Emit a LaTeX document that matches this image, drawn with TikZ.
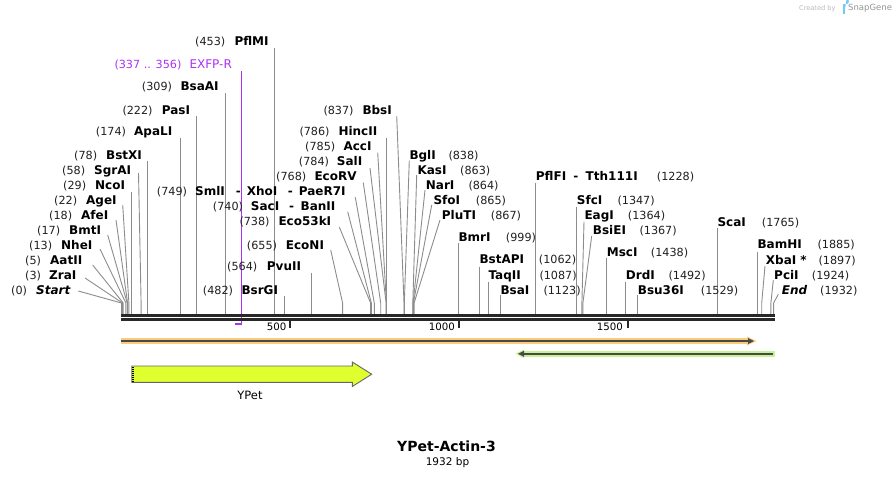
\documentclass[tikz,border=0pt]{standalone}
\usepackage{fontspec}
\setmainfont{DejaVu Sans}
\definecolor{cutgray}{RGB}{140,140,140}
\definecolor{primerpurple}{RGB}{170,51,240}
\definecolor{ypetfill}{RGB}{223,255,46}
\definecolor{orangehl}{RGB}{250,204,122}
\definecolor{greenhl}{RGB}{196,242,150}
\definecolor{darkline}{RGB}{40,40,40}
\definecolor{sgblue}{RGB}{120,200,245}
\tikzset{
  numt/.style={anchor=base west, inner sep=0pt, font=\fontsize{11.2}{13}\selectfont, text=black!88},
  nmt/.style={anchor=base west, inner sep=0pt, font=\fontsize{12}{14}\selectfont\bfseries},
  cut/.style={draw=cutgray, line width=0.9pt},
  tickt/.style={anchor=base east, inner sep=0pt, font=\fontsize{10.2}{12}\selectfont},
}
% left-type label: id, num x, name x, baseline y, number, name
\newcommand{\labL}[6]{%
  \node[numt] (#1-n) at (#2,#4) {(#5)};
  \node[nmt] (#1-m) at (#3,#4) {#6};}
% right-type label: id, name x, num x, baseline y, number, name
\newcommand{\labR}[6]{%
  \node[nmt] (#1-m) at (#2,#4) {#6};
  \node[numt] (#1-n) at (#3,#4) {(#5)};}
% cut line: id, site x, start x, start y
\newcommand{\cutl}[4]{%
  \coordinate (#1-t) at (#3,#4);
  \coordinate (#1-k) at (#2,303);
  \coordinate (#1-s) at (#2,314);
  \draw[cut] (#1-t) -- (#1-k) -- (#1-s);}
\begin{document}
\begin{tikzpicture}[x=1pt,y=-1pt]
\path[use as bounding box] (0,0) rectangle (896,477);

% ---- SnapGene credit ----
\node[anchor=base west, inner sep=0pt, font=\fontsize{6.6}{8}\selectfont, text=black!28] (credit) at (799,10.5) {Created by};
\fill[sgblue] (843,4) rectangle (845,13.5);
\fill[sgblue] (845,4) -- (846.5,4) arc[start angle=90, end angle=-90, radius=2.5] -- (845,9) -- cycle;
\node[anchor=base west, inner sep=0pt, font=\fontsize{8.5}{10}\selectfont, text=black!42] (sglogo) at (848,10.5) {SnapGene};

% ---- cut lines ----
\cutl{Start}{121.5}{78.3}{291}
\cutl{ZraI}{122.5}{85}{278}
\cutl{AatII}{123.2}{92.7}{265}
\cutl{NheI}{125.9}{100}{249}
\cutl{BmtI}{127.2}{107.7}{235}
\cutl{AfeI}{127.6}{116}{220}
\cutl{AgeI}{128.9}{122.7}{205}
\cutl{NcoI}{131.3}{131.3}{191.7}
\cutl{SgrAI}{141.1}{138.5}{173}
\cutl{BstXI}{147.8}{147.8}{161}
\cutl{ApaLI}{180.2}{180.2}{138.3}
\cutl{PasI}{196.4}{196.4}{116}
\cutl{BsaAI}{225.8}{225.8}{93.3}
\cutl{PflMI}{274.4}{274.4}{48.3}
\cutl{BsrGI}{284.2}{284.2}{295.5}
\cutl{PvuII}{311.9}{311.9}{273}
\cutl{EcoNI}{342.6}{330.7}{250}
\cutl{EcoFT}{370.6}{339.3}{227}
\cutl{SacI}{371.3}{347.7}{211.7}
\cutl{SmlI}{374.3}{355.3}{197.3}
\cutl{EcoRV}{380.7}{363.3}{182.7}
\cutl{SalI}{386.1}{370}{168}
\cutl{AccI}{386.4}{377.7}{152.7}
\cutl{HincII}{386.8}{386.8}{138.3}
\cutl{BbsI}{404.0}{396.7}{116}
\cutl{BglI}{404.3}{409.3}{160.7}
\cutl{KasI}{412.8}{416.7}{175}
\cutl{NarI}{413.1}{425}{190}
\cutl{SfoI}{413.4}{431.7}{205}
\cutl{PluTI}{414.1}{440}{220}
\cutl{BmrI}{458.7}{458.7}{243}
\cutl{BstAPI}{479.9}{479.9}{266.7}
\cutl{TaqII}{488.4}{488.4}{281.7}
\cutl{BsaI}{500.5}{500.5}{295}
\cutl{PflFI}{535.9}{535.9}{183.3}
\cutl{SfcI}{576.1}{576.1}{206.7}
\cutl{EagI}{581.9}{584}{221.7}
\cutl{BsiEI}{582.9}{591.7}{236}
\cutl{MscI}{606.8}{606.8}{257.7}
\cutl{DrdI}{625.1}{625.1}{281.7}
\cutl{BsuTS}{637.5}{637.5}{295}
\cutl{ScaI}{717.2}{717.2}{228.3}
\cutl{BamHI}{757.7}{757.7}{251.7}
\cutl{XbaI}{761.7}{765}{266}
\cutl{PciI}{770.9}{773.3}{280}
\cutl{End}{773.6}{778.3}{294.3}

% ---- primer EXFP-R ----
\coordinate (pr-t) at (241.5,71);
\coordinate (pr-b) at (241.5,324);
\coordinate (pr-e) at (235,324);
\draw[primerpurple, line width=1.1pt] (pr-t) -- (pr-b) -- (pr-e);
\node[numt, text=primerpurple] (EXFP-n) at (114.3,68.3) {(337 .. 356)};
\node[anchor=base west, inner sep=0pt, font=\fontsize{12}{14}\selectfont, text=primerpurple] (EXFP-m) at (189.3,68.3) {EXFP-R};

% ---- backbone ----
\coordinate (bbL) at (121,315.3);
\coordinate (bbR) at (775,315.3);
\coordinate (bbL2) at (121,319.4);
\coordinate (bbR2) at (775,319.4);
\draw[darkline, line width=2.7pt] (bbL) -- (bbR);
\draw[darkline, line width=2.7pt] (bbL2) -- (bbR2);

% ticks
\coordinate (t500a) at (290.3,320.7); \coordinate (t500b) at (290.3,327.5);
\coordinate (t1000a) at (459,320.7); \coordinate (t1000b) at (459,327.5);
\coordinate (t1500a) at (627.5,320.7); \coordinate (t1500b) at (627.5,327.5);
\draw[darkline, line width=2pt] (t500a) -- (t500b);
\draw[darkline, line width=2pt] (t1000a) -- (t1000b);
\draw[darkline, line width=2pt] (t1500a) -- (t1500b);
\node[tickt] (l500) at (286.5,330.7) {500};
\node[tickt] (l1000) at (455,330.7) {1000};
\node[tickt] (l1500) at (623,330.7) {1500};

% ---- orange (forward) bar ----
\coordinate (oL) at (121,341);
\coordinate (oR) at (748,341);
\fill[orangehl] (121,338) rectangle (748,344);
\fill[orangehl] (747,336.5) -- (756.5,341) -- (747,345.5) -- cycle;
\draw[darkline!85, line width=2.2pt] (oL) -- (749,341);
\fill[darkline!85] (748,338) -- (754,341) -- (748,344) -- cycle;

% ---- green (reverse) bar ----
\coordinate (gL) at (523,353.8);
\coordinate (gR) at (772.7,353.8);
\fill[greenhl] (523,350.8) rectangle (774.7,356.8);
\fill[greenhl] (524,349.3) -- (515.5,353.8) -- (524,358.3) -- cycle;
\draw[darkline!85, line width=2.2pt] (gL) -- (gR);
\fill[darkline!85] (524,350.8) -- (518,353.8) -- (524,356.8) -- cycle;

% ---- YPet feature ----
\coordinate (yA) at (131.7,366);
\coordinate (yB) at (352.3,366);
\coordinate (yC) at (352.3,362);
\coordinate (yTip) at (371.7,374.2);
\coordinate (yD) at (352.3,386.5);
\coordinate (yE) at (352.3,382.3);
\coordinate (yF) at (131.7,382.3);
\draw[fill=ypetfill, draw=black!60, line width=0.9pt] (yA) -- (yB) -- (yC) -- (yTip) -- (yD) -- (yE) -- (yF) -- cycle;
\draw[black, line width=2pt, dash pattern=on 1pt off 1pt] (133.2,366.5) -- (133.2,382);
\node[anchor=base, inner sep=0pt, font=\fontsize{11.5}{13}\selectfont] (ypetlab) at (250,399.3) {YPet};

% ---- title ----
\node[anchor=base, inner sep=0pt, font=\fontsize{14}{16}\selectfont\bfseries] (title) at (446.5,451) {YPet-Actin-3};
\node[anchor=base, inner sep=0pt, font=\fontsize{10.5}{12}\selectfont] (size) at (447.5,465) {1932 bp};

% ---- labels, left type ----
\labL{Start}{11}{36}{294}{0}{\itshape Start}
\labL{ZraI}{25}{49}{279}{3}{ZraI}
\labL{AatII}{25}{50}{264}{5}{AatII}
\labL{NheI}{29}{61}{249}{13}{NheI}
\labL{BmtI}{37}{69}{234}{17}{BmtI}
\labL{AfeI}{49}{81}{219}{18}{AfeI}
\labL{AgeI}{54}{86}{204}{22}{AgeI}
\labL{NcoI}{63}{95}{189}{29}{NcoI}
\labL{SgrAI}{62}{94}{174}{58}{SgrAI}
\labL{BstXI}{74}{106}{159}{78}{BstXI}
\labL{ApaLI}{95.7}{134}{135.7}{174}{ApaLI}
\labL{PasI}{122.3}{161.7}{114}{222}{PasI}
\labL{BsaAI}{141.7}{180.3}{90.7}{309}{BsaAI}
\labL{PflMI}{195}{234.3}{45.7}{453}{PflMI}
\labL{BsrGI}{202.7}{241.3}{294}{482}{BsrGI}
\labL{PvuII}{227}{266.7}{270.7}{564}{PvuII}
\labL{EcoNI}{246.7}{285.7}{249}{655}{EcoNI}
\labL{EcoFT}{239.3}{278.3}{225.7}{738}{Eco53kI}
\labL{SacI}{212.7}{250.7}{210.7}{740}{SacI\hspace{10pt}-\hspace{6.5pt}BanII}
\labL{SmlI}{156.7}{195}{195.7}{749}{SmlI\hspace{11pt}-\hspace{6pt}XhoI\hspace{10.5pt}-\hspace{6pt}PaeR7I}
\labL{EcoRV}{276}{314.3}{180.7}{768}{EcoRV}
\labL{SalI}{298.7}{336.7}{165.7}{784}{SalI}
\labL{AccI}{305}{343.3}{150.7}{785}{AccI}
\labL{HincII}{299.3}{338.3}{135.7}{786}{HincII}
\labL{BbsI}{323.3}{362.3}{114}{837}{BbsI}

% ---- labels, right type ----
\labR{BglI}{409.3}{448.3}{159}{838}{BglI}
\labR{KasI}{417.3}{460}{174}{863}{KasI}
\labR{NarI}{425.7}{468.3}{189}{864}{NarI}
\labR{SfoI}{433.3}{475.7}{204}{865}{SfoI}
\labR{PluTI}{441.7}{490.7}{219}{867}{PluTI}
\labR{BmrI}{458.3}{505.7}{241.3}{999}{BmrI}
\labR{BstAPI}{479.3}{538.7}{263.3}{1062}{BstAPI}
\labR{TaqII}{488.3}{539.3}{279}{1087}{TaqII}
\labR{BsaI}{500.3}{543.3}{294}{1123}{BsaI}
\labR{PflFI}{535.7}{656.7}{180.7}{1228}{PflFI\hspace{7pt}-\hspace{7.5pt}Tth111I}
\labR{SfcI}{576.7}{617.3}{204}{1347}{SfcI}
\labR{EagI}{584.3}{627.7}{219}{1364}{EagI}
\labR{BsiEI}{592.7}{639.3}{234}{1367}{BsiEI}
\labR{MscI}{606.7}{650.7}{256.3}{1438}{MscI}
\labR{DrdI}{625.7}{668.3}{279}{1492}{DrdI}
\labR{BsuTS}{637.7}{700.7}{294}{1529}{Bsu36I}
\labR{ScaI}{717.3}{761.7}{226.3}{1765}{ScaI}
\labR{BamHI}{757.3}{817.3}{248.3}{1885}{BamHI}
\labR{XbaI}{765.7}{818.3}{264}{1897}{XbaI *}
\labR{PciI}{774}{811.7}{279.3}{1924}{PciI}
\labR{End}{781.7}{820}{294}{1932}{\itshape End}
\end{tikzpicture}
\end{document}
